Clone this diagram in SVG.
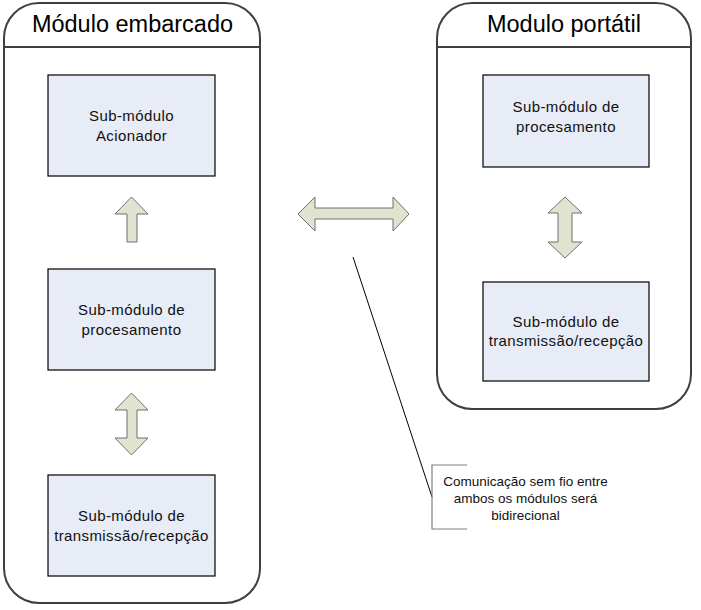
<svg xmlns="http://www.w3.org/2000/svg" width="701" height="610" viewBox="0 0 701 610">
<style>
  .container { fill: #ffffff; stroke: #3f3f3f; stroke-width: 2; }
  .sep { stroke: #3f3f3f; stroke-width: 2; fill: none; }
  .title { font-family: "Liberation Sans", Arial, sans-serif; font-size: 23.5px; fill: #000; text-anchor: middle; }
  .box { fill: #e7ecf6; stroke: #000; stroke-width: 1.2; }
  .label { font-family: "Liberation Sans", Arial, sans-serif; font-size: 15px; letter-spacing: 0.4px; fill: #111; text-anchor: middle; }
  .arrow { fill: #dfe3cf; stroke: #707070; stroke-width: 1; }
  .note { font-family: "Liberation Sans", Arial, sans-serif; font-size: 13.5px; fill: #111; text-anchor: middle; }
</style>
<rect width="701" height="610" fill="#ffffff"/>

<g id="modulo-embarcado">
  <path class="container" d="M39,3 H225 A35,35 0 0 1 260,38 V568 A35,35 0 0 1 225,603 H39 A35,35 0 0 1 4,568 V38 A35,35 0 0 1 39,3 Z"/>
  <line class="sep" x1="4" y1="47" x2="260" y2="47"/>
  <text class="title" x="132.5" y="32">Módulo embarcado</text>
</g>

<g id="modulo-portatil">
  <path class="container" d="M472,3 H656 A35,35 0 0 1 691,38 V374 A35,35 0 0 1 656,409 H472 A35,35 0 0 1 437,374 V38 A35,35 0 0 1 472,3 Z"/>
  <line class="sep" x1="437" y1="47" x2="691" y2="47"/>
  <text class="title" x="564" y="32">Modulo portátil</text>
</g>

<g id="acionador">
  <rect class="box" x="48" y="75" width="167" height="101"/>
  <text class="label" x="131.5" y="121">Sub-módulo</text>
  <text class="label" x="131.5" y="141">Acionador</text>
</g>

<g id="processamento-embarcado">
  <rect class="box" x="48" y="269" width="167" height="101"/>
  <text class="label" x="131.5" y="315">Sub-módulo de</text>
  <text class="label" x="131.5" y="335">procesamento</text>
</g>

<g id="transmissao-embarcado">
  <rect class="box" x="48" y="475" width="167" height="101"/>
  <text class="label" x="131.5" y="521">Sub-módulo de</text>
  <text class="label" x="131.5" y="541">transmissão/recepção</text>
</g>

<g id="processamento-portatil">
  <rect class="box" x="483" y="75" width="166" height="92"/>
  <text class="label" x="566" y="112">Sub-módulo de</text>
  <text class="label" x="566" y="132">procesamento</text>
</g>

<g id="transmissao-portatil">
  <rect class="box" x="483" y="282" width="166" height="99"/>
  <text class="label" x="566" y="327">Sub-módulo de</text>
  <text class="label" x="566" y="346">transmissão/recepção</text>
</g>

<g id="connectors">
  <polygon class="arrow" points="131.5,197 148,214 137,214 137,242 127,242 127,214 115,214"/>
  <polygon class="arrow" points="131.5,393 148,410 137,410 137,438 148,438 131.5,455 115,438 127,438 127,410 115,410"/>
  <polygon class="arrow" points="565,197 582,213 572,213 572,242 582,242 565,258 548,242 558,242 558,213 548,213"/>
  <polygon class="arrow" points="298,214 315,197 315,208 393,208 393,197 409,214 393,231 393,219 315,219 315,231"/>
</g>

<g id="nota">
  <line x1="353" y1="257" x2="432" y2="497" stroke="#000" stroke-width="1"/>
  <polyline points="467,465 432,465 432,529 467,529" fill="none" stroke="#808080" stroke-width="1.2"/>
  <text class="note" x="525.5" y="486">Comunicação sem fio entre</text>
  <text class="note" x="525.5" y="503">ambos os módulos será</text>
  <text class="note" x="525.5" y="520">bidirecional</text>
</g>
</svg>
